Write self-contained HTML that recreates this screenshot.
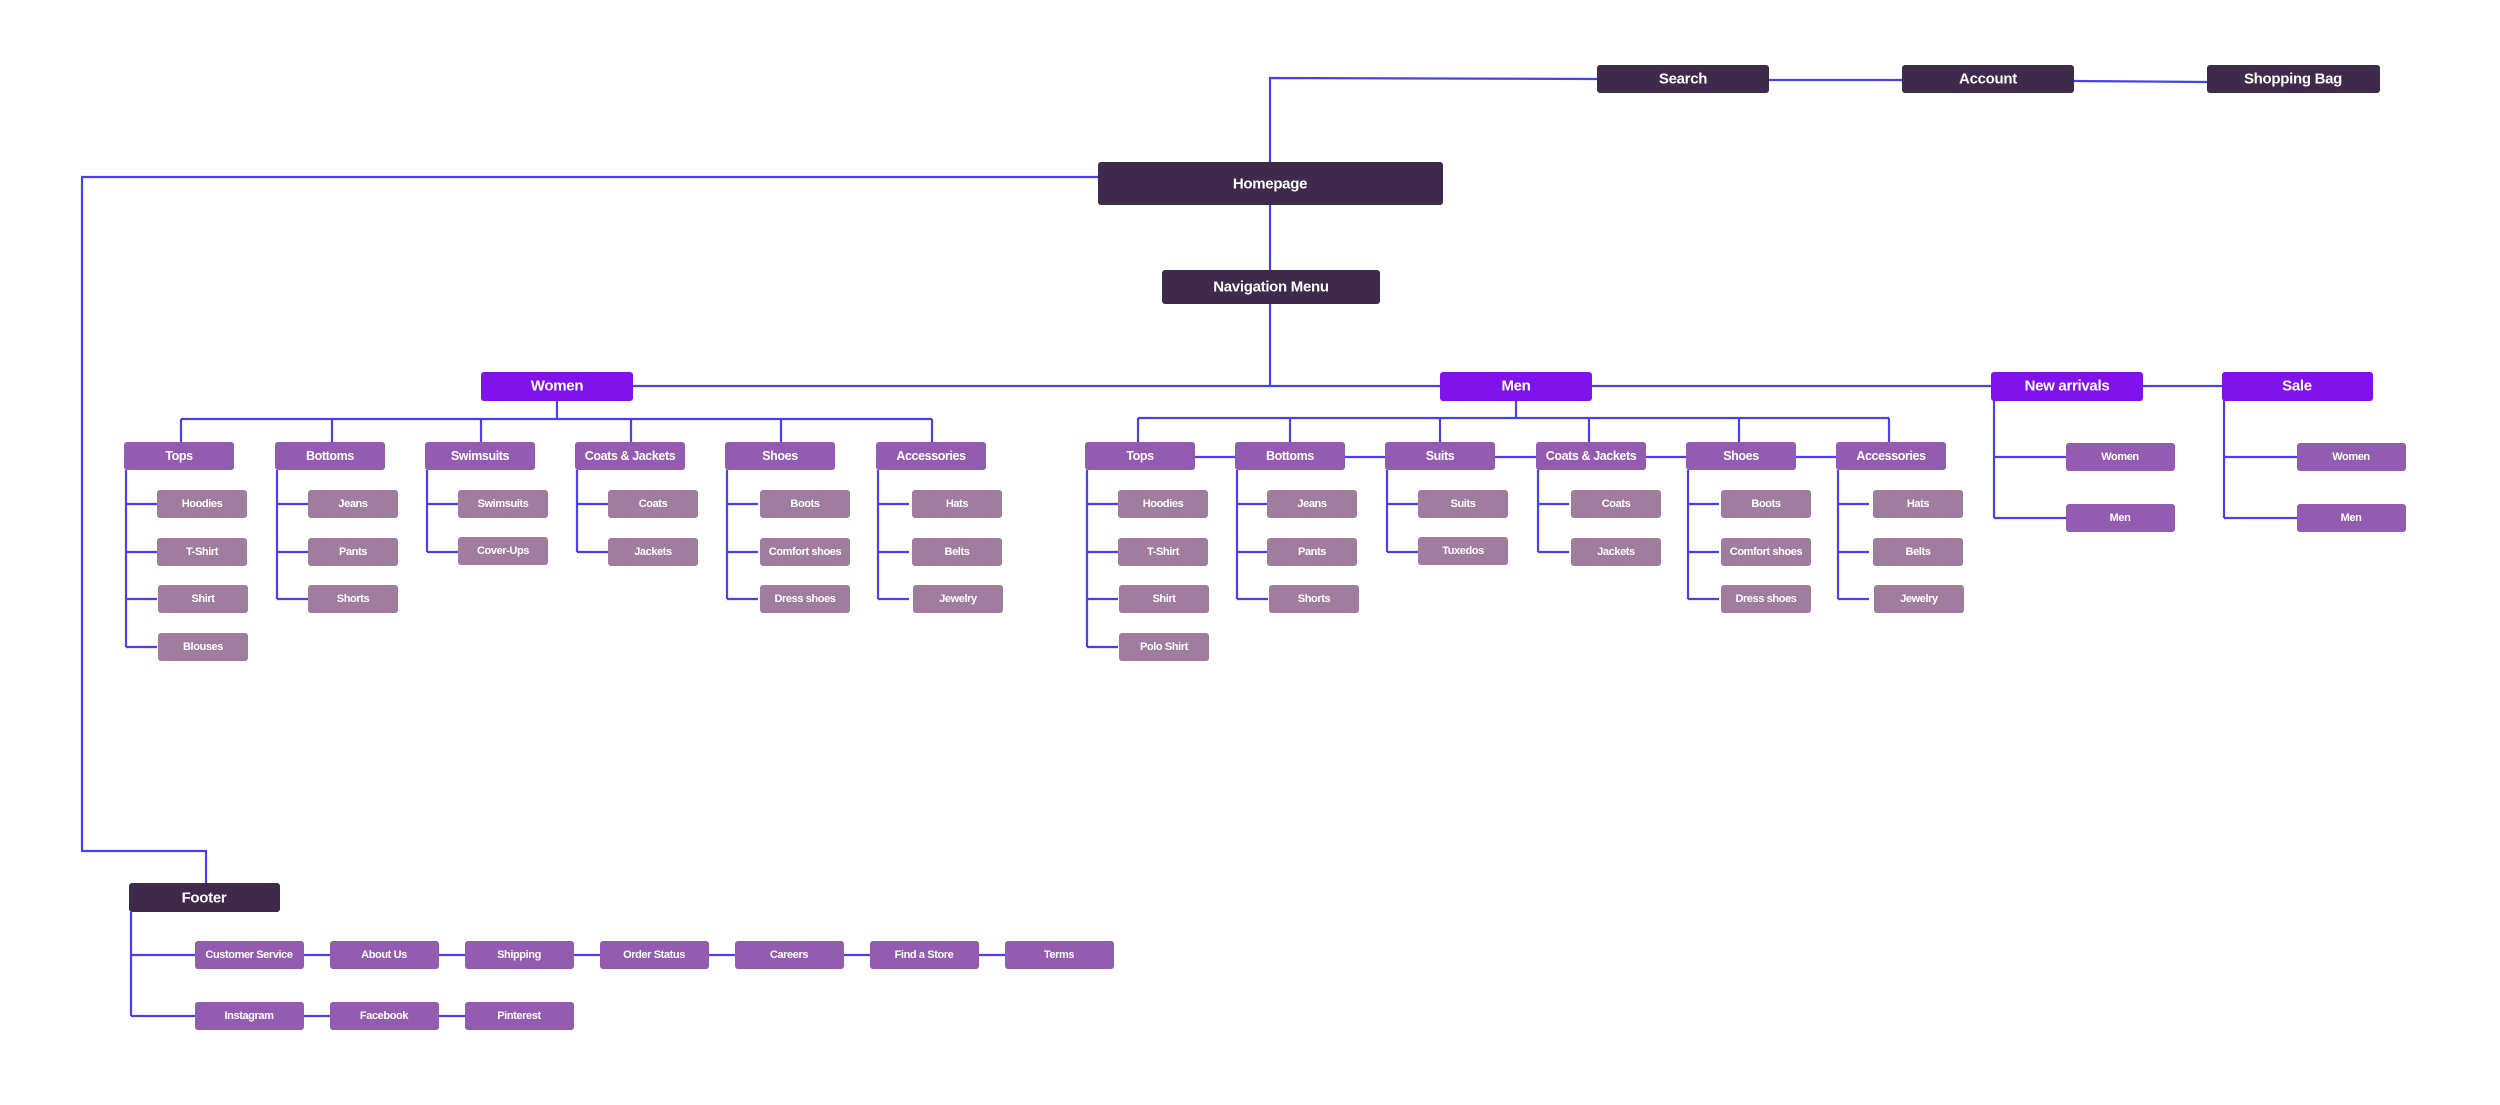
<!DOCTYPE html>
<html><head><meta charset="utf-8"><style>
html,body{margin:0;padding:0;background:#fff;}
svg{display:block;}
text{font-family:"Liberation Sans",sans-serif;fill:#fff;text-anchor:middle;dominant-baseline:central;font-weight:bold;}
.d{fill:#3f2a4c}.b{fill:#8013eb}.m{fill:#935cb0}.s{fill:#a07d9e}
.l{stroke:#4a40f0;stroke-width:2.2;fill:none}
.t16{font-size:15px;letter-spacing:-0.3px}.t14{font-size:12.5px;letter-spacing:-0.4px}.t12{font-size:11px;letter-spacing:-0.4px}
</style></head><body>
<svg width="2500" height="1105" viewBox="0 0 2500 1105" xmlns="http://www.w3.org/2000/svg">
<path class="l" d="M1270 162 V78 L1597 79 M1769 80 L1902 80 M2074 81 L2207 82"/>
<path class="l" d="M1098 177 H82 V851 H206 V883"/>
<path class="l" d="M1270 205 V270 M1270 304 V386 M633 386 H1440 M1592 386 H1991 M2143 386 H2222"/>
<path class="l" d="M557 401 V419 M181 419 H932 M181 419 V442 M332 419 V442 M481 419 V442 M631 419 V442 M781 419 V442 M932 419 V442"/>
<path class="l" d="M126 470 V647 M126 504 H157 M126 552 H157 M126 599 H157 M126 647 H157"/>
<path class="l" d="M277 470 V599 M277 504 H308 M277 552 H308 M277 599 H308"/>
<path class="l" d="M427 470 V552 M427 504 H458 M427 552 H458"/>
<path class="l" d="M577 470 V552 M577 504 H608 M577 552 H608"/>
<path class="l" d="M727 470 V599 M727 504 H758 M727 552 H758 M727 599 H758"/>
<path class="l" d="M878 470 V599 M878 504 H909 M878 552 H909 M878 599 H909"/>
<path class="l" d="M1516 401 V418 M1138 418 H1889 M1138 418 V442 M1290 418 V442 M1440 418 V442 M1589 418 V442 M1739 418 V442 M1889 418 V442"/>
<path class="l" d="M1195 457 H1235 M1345 457 H1385 M1495 457 H1536 M1646 457 H1686 M1796 457 H1836"/>
<path class="l" d="M1087 470 V647 M1087 504 H1118 M1087 552 H1118 M1087 599 H1118 M1087 647 H1118"/>
<path class="l" d="M1237 470 V599 M1237 504 H1268 M1237 552 H1268 M1237 599 H1268"/>
<path class="l" d="M1387 470 V552 M1387 504 H1418 M1387 552 H1418"/>
<path class="l" d="M1538 470 V552 M1538 504 H1569 M1538 552 H1569"/>
<path class="l" d="M1688 470 V599 M1688 504 H1719 M1688 552 H1719 M1688 599 H1719"/>
<path class="l" d="M1838 470 V599 M1838 504 H1869 M1838 552 H1869 M1838 599 H1869"/>
<path class="l" d="M1994 400 V518 M1994 457 H2066 M1994 518 H2066"/>
<path class="l" d="M2224 400 V518 M2224 457 H2297 M2224 518 H2297"/>
<path class="l" d="M131 912 V1016 M131 955 H195 M131 1016 H195"/>
<path class="l" d="M304 955 H330 M439 955 H465 M574 955 H600 M709 955 H735 M844 955 H870 M979 955 H1005 M304 1016 H330 M439 1016 H465"/>

<rect class="d" x="1597" y="65" width="172" height="28" rx="3"/><text class="t16" x="1683" y="79">Search</text>
<rect class="d" x="1902" y="65" width="172" height="28" rx="3"/><text class="t16" x="1988" y="79">Account</text>
<rect class="d" x="2207" y="65" width="173" height="28" rx="3"/><text class="t16" x="2293" y="79">Shopping Bag</text>
<rect class="d" x="1098" y="162" width="345" height="43" rx="3"/><text class="t16" x="1270" y="184">Homepage</text>
<rect class="d" x="1162" y="270" width="218" height="34" rx="3"/><text class="t16" x="1271" y="287">Navigation Menu</text>
<rect class="b" x="481" y="372" width="152" height="29" rx="3"/><text class="t16" x="557" y="386">Women</text>
<rect class="b" x="1440" y="372" width="152" height="29" rx="3"/><text class="t16" x="1516" y="386">Men</text>
<rect class="b" x="1991" y="372" width="152" height="29" rx="3"/><text class="t16" x="2067" y="386">New arrivals</text>
<rect class="b" x="2222" y="372" width="151" height="29" rx="3"/><text class="t16" x="2297" y="386">Sale</text>

<rect class="m" x="124" y="442" width="110" height="28" rx="3"/><text class="t14" x="179" y="456">Tops</text>
<rect class="m" x="275" y="442" width="110" height="28" rx="3"/><text class="t14" x="330" y="456">Bottoms</text>
<rect class="m" x="425" y="442" width="110" height="28" rx="3"/><text class="t14" x="480" y="456">Swimsuits</text>
<rect class="m" x="575" y="442" width="110" height="28" rx="3"/><text class="t14" x="630" y="456">Coats &amp; Jackets</text>
<rect class="m" x="725" y="442" width="110" height="28" rx="3"/><text class="t14" x="780" y="456">Shoes</text>
<rect class="m" x="876" y="442" width="110" height="28" rx="3"/><text class="t14" x="931" y="456">Accessories</text>
<rect class="s" x="157" y="490" width="90" height="28" rx="3"/><text class="t12" x="202" y="504">Hoodies</text>
<rect class="s" x="157" y="538" width="90" height="28" rx="3"/><text class="t12" x="202" y="552">T-Shirt</text>
<rect class="s" x="158" y="585" width="90" height="28" rx="3"/><text class="t12" x="203" y="599">Shirt</text>
<rect class="s" x="158" y="633" width="90" height="28" rx="3"/><text class="t12" x="203" y="647">Blouses</text>
<rect class="s" x="308" y="490" width="90" height="28" rx="3"/><text class="t12" x="353" y="504">Jeans</text>
<rect class="s" x="308" y="538" width="90" height="28" rx="3"/><text class="t12" x="353" y="552">Pants</text>
<rect class="s" x="308" y="585" width="90" height="28" rx="3"/><text class="t12" x="353" y="599">Shorts</text>
<rect class="s" x="458" y="490" width="90" height="28" rx="3"/><text class="t12" x="503" y="504">Swimsuits</text>
<rect class="s" x="458" y="537" width="90" height="28" rx="3"/><text class="t12" x="503" y="551">Cover-Ups</text>
<rect class="s" x="608" y="490" width="90" height="28" rx="3"/><text class="t12" x="653" y="504">Coats</text>
<rect class="s" x="608" y="538" width="90" height="28" rx="3"/><text class="t12" x="653" y="552">Jackets</text>
<rect class="s" x="760" y="490" width="90" height="28" rx="3"/><text class="t12" x="805" y="504">Boots</text>
<rect class="s" x="760" y="538" width="90" height="28" rx="3"/><text class="t12" x="805" y="552">Comfort shoes</text>
<rect class="s" x="760" y="585" width="90" height="28" rx="3"/><text class="t12" x="805" y="599">Dress shoes</text>
<rect class="s" x="912" y="490" width="90" height="28" rx="3"/><text class="t12" x="957" y="504">Hats</text>
<rect class="s" x="912" y="538" width="90" height="28" rx="3"/><text class="t12" x="957" y="552">Belts</text>
<rect class="s" x="913" y="585" width="90" height="28" rx="3"/><text class="t12" x="958" y="599">Jewelry</text>

<rect class="m" x="1085" y="442" width="110" height="28" rx="3"/><text class="t14" x="1140" y="456">Tops</text>
<rect class="m" x="1235" y="442" width="110" height="28" rx="3"/><text class="t14" x="1290" y="456">Bottoms</text>
<rect class="m" x="1385" y="442" width="110" height="28" rx="3"/><text class="t14" x="1440" y="456">Suits</text>
<rect class="m" x="1536" y="442" width="110" height="28" rx="3"/><text class="t14" x="1591" y="456">Coats &amp; Jackets</text>
<rect class="m" x="1686" y="442" width="110" height="28" rx="3"/><text class="t14" x="1741" y="456">Shoes</text>
<rect class="m" x="1836" y="442" width="110" height="28" rx="3"/><text class="t14" x="1891" y="456">Accessories</text>
<rect class="s" x="1118" y="490" width="90" height="28" rx="3"/><text class="t12" x="1163" y="504">Hoodies</text>
<rect class="s" x="1118" y="538" width="90" height="28" rx="3"/><text class="t12" x="1163" y="552">T-Shirt</text>
<rect class="s" x="1119" y="585" width="90" height="28" rx="3"/><text class="t12" x="1164" y="599">Shirt</text>
<rect class="s" x="1119" y="633" width="90" height="28" rx="3"/><text class="t12" x="1164" y="647">Polo Shirt</text>
<rect class="s" x="1267" y="490" width="90" height="28" rx="3"/><text class="t12" x="1312" y="504">Jeans</text>
<rect class="s" x="1267" y="538" width="90" height="28" rx="3"/><text class="t12" x="1312" y="552">Pants</text>
<rect class="s" x="1269" y="585" width="90" height="28" rx="3"/><text class="t12" x="1314" y="599">Shorts</text>
<rect class="s" x="1418" y="490" width="90" height="28" rx="3"/><text class="t12" x="1463" y="504">Suits</text>
<rect class="s" x="1418" y="537" width="90" height="28" rx="3"/><text class="t12" x="1463" y="551">Tuxedos</text>
<rect class="s" x="1571" y="490" width="90" height="28" rx="3"/><text class="t12" x="1616" y="504">Coats</text>
<rect class="s" x="1571" y="538" width="90" height="28" rx="3"/><text class="t12" x="1616" y="552">Jackets</text>
<rect class="s" x="1721" y="490" width="90" height="28" rx="3"/><text class="t12" x="1766" y="504">Boots</text>
<rect class="s" x="1721" y="538" width="90" height="28" rx="3"/><text class="t12" x="1766" y="552">Comfort shoes</text>
<rect class="s" x="1721" y="585" width="90" height="28" rx="3"/><text class="t12" x="1766" y="599">Dress shoes</text>
<rect class="s" x="1873" y="490" width="90" height="28" rx="3"/><text class="t12" x="1918" y="504">Hats</text>
<rect class="s" x="1873" y="538" width="90" height="28" rx="3"/><text class="t12" x="1918" y="552">Belts</text>
<rect class="s" x="1874" y="585" width="90" height="28" rx="3"/><text class="t12" x="1919" y="599">Jewelry</text>

<rect class="m" x="2066" y="443" width="109" height="28" rx="3"/><text class="t12" x="2120" y="457">Women</text>
<rect class="m" x="2066" y="504" width="109" height="28" rx="3"/><text class="t12" x="2120" y="518">Men</text>
<rect class="m" x="2297" y="443" width="109" height="28" rx="3"/><text class="t12" x="2351" y="457">Women</text>
<rect class="m" x="2297" y="504" width="109" height="28" rx="3"/><text class="t12" x="2351" y="518">Men</text>

<rect class="d" x="129" y="883" width="151" height="29" rx="3"/><text class="t16" x="204" y="898">Footer</text>
<rect class="m" x="195" y="941" width="109" height="28" rx="3"/><text class="t12" x="249" y="955">Customer Service</text>
<rect class="m" x="330" y="941" width="109" height="28" rx="3"/><text class="t12" x="384" y="955">About Us</text>
<rect class="m" x="465" y="941" width="109" height="28" rx="3"/><text class="t12" x="519" y="955">Shipping</text>
<rect class="m" x="600" y="941" width="109" height="28" rx="3"/><text class="t12" x="654" y="955">Order Status</text>
<rect class="m" x="735" y="941" width="109" height="28" rx="3"/><text class="t12" x="789" y="955">Careers</text>
<rect class="m" x="870" y="941" width="109" height="28" rx="3"/><text class="t12" x="924" y="955">Find a Store</text>
<rect class="m" x="1005" y="941" width="109" height="28" rx="3"/><text class="t12" x="1059" y="955">Terms</text>
<rect class="m" x="195" y="1002" width="109" height="28" rx="3"/><text class="t12" x="249" y="1016">Instagram</text>
<rect class="m" x="330" y="1002" width="109" height="28" rx="3"/><text class="t12" x="384" y="1016">Facebook</text>
<rect class="m" x="465" y="1002" width="109" height="28" rx="3"/><text class="t12" x="519" y="1016">Pinterest</text>
</svg>
</body></html>
